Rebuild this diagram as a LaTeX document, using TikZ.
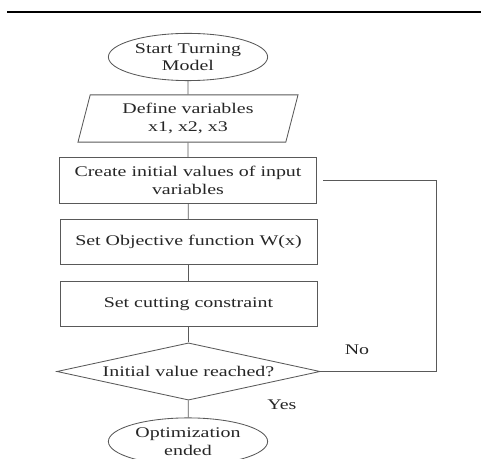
\documentclass[tikz,border=0pt]{standalone}
\usepackage{fontspec}
\setmainfont{Liberation Serif}[FakeStretch=1.35]
\usetikzlibrary{shapes.geometric}

\begin{document}
\begin{tikzpicture}[x=0.025cm,y=-0.025cm,
  every node/.style={font=\fontsize{10.5}{12.5}\selectfont,text=black!85},
  line/.style={draw=black!65,line width=0.6pt},
  terminal/.style={ellipse,line,fill=white,minimum width=3.98cm,minimum height=1.18cm,inner sep=0pt,align=center},
  io/.style={trapezium,trapezium left angle=68,trapezium right angle=112,trapezium stretches body=true,line,fill=white,minimum width=5.5cm,minimum height=1.18cm,inner sep=0pt,align=center},
  process/.style={rectangle,line,fill=white,minimum width=6.42cm,minimum height=1.13cm,inner sep=0pt,align=center},
  decision/.style={diamond,aspect=4.6,line,fill=white,minimum width=6.58cm,minimum height=1.43cm,inner sep=0pt}]
\useasboundingbox (0,0) rectangle (481,459);

% Rule at the top
\draw[black,line width=1.4pt] (7,12) -- (481,12);

% Flow chart
\node[terminal] (start) at (188,57) {Start Turning\\Model};
\node[io] (define) at (188,118.5) {Define variables\\x1, x2, x3};
\node[process] (init) at (188,180.5) {Create initial values of input\\variables};
\node[process] (objective) at (188.5,242) {Set Objective function W(x)};
\node[process] (constraint) at (188.5,304) {Set cutting constraint};
\node[decision] (check) at (188.5,371.5) {Initial value reached?};
\node[terminal] (stop) at (188,441.5) {Optimization\\ended};

% Connectors
\draw[line] (start) -- (define);
\draw[line] (define) -- (init);
\draw[line] (init) -- (objective);
\draw[line] (objective) -- (constraint);
\draw[line] (constraint) -- (check);
\draw[line] (check) -- (stop);
\draw[line,shorten >=0.15cm] (check.east) -- ++(116,0) |- (init.east);

% Labels
\node (no) at (357,350) {No};
\node (yes) at (282,405) {Yes};

\end{tikzpicture}
\end{document}
